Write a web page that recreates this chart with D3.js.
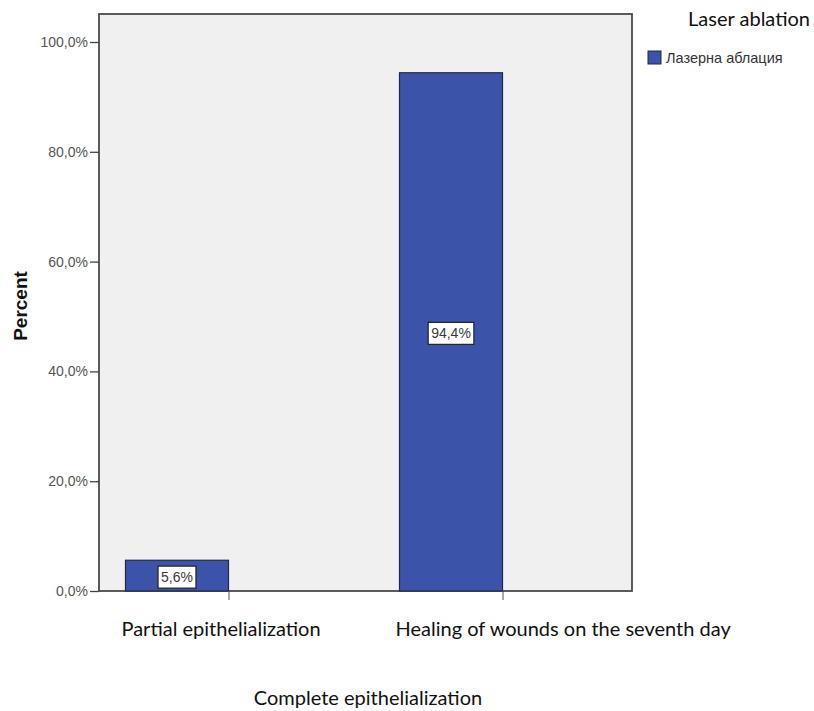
<!DOCTYPE html>
<html>
<head>
<meta charset="utf-8">
<script src="https://cdn.jsdelivr.net/npm/d3@7"></script>
<style>
  body { margin: 0; background: #fff; }
  svg { display: block; }
</style>
</head>
<body>
<svg id="chart" width="814" height="711"></svg>
<script>
// Outcome categories and the share of patients in each (percent)
const categories = ["Partial epithelialization", "Healing of wounds on the seventh day"];
const seriesNames = ["Лазерна аблация", ""];
const laserValues = [5.6, 94.4];
const emptyValues = [0, 0];
const yTicks = [0, 20, 40, 60, 80, 100];
const legendTitle = "Laser ablation";
const xTitle = "Complete epithelialization";
const yTitle = "Percent";

const svg = d3.select("#chart");
const frame = { left: 99, top: 14, right: 632, bottom: 591 };
const barFill = "#3b53a8";
const fmt = v => d3.format(".1f")(v).replace(".", ",") + "%";
const sansUI = "Liberation Sans, Arial, sans-serif";
const sansText = "Lato, Carlito, Calibri, sans-serif";

const y = d3.scaleLinear().domain([0, 100]).range([591, 42]);
const x = d3.scalePoint().domain(categories).range([frame.left, frame.right]).padding(0.4726);
const xSub = d3.scaleBand().domain(seriesNames).range([-103, 103]);

// plot area
svg.append("rect")
  .attr("x", frame.left).attr("y", frame.top)
  .attr("width", frame.right - frame.left).attr("height", frame.bottom - frame.top)
  .attr("fill", "#f0f0f0").attr("stroke", "#4a4a4a").attr("stroke-width", 1.8);

// bars
const rows = categories.map((c, i) => ({ c, vals: [laserValues[i], emptyValues[i]] }));
const groups = svg.append("g").selectAll("g").data(rows).join("g")
  .attr("transform", d => `translate(${x(d.c)},0)`);

groups.selectAll("rect").data(d => d.vals.map((v, j) => ({ v, s: seriesNames[j] })))
  .join("rect")
  .filter(d => d.v > 0)
  .attr("x", d => xSub(d.s))
  .attr("width", xSub.bandwidth())
  .attr("y", d => y(d.v))
  .attr("height", d => y(0) - y(d.v))
  .attr("fill", barFill)
  .attr("stroke", "#1f2a4a").attr("stroke-width", 1.2);

// value labels
groups.each(function(d) {
  const g = d3.select(this);
  const v = d.vals[0];
  const cx = xSub(seriesNames[0]) + xSub.bandwidth() / 2;
  const cy = (y(v) + y(0)) / 2 + 1.5;
  const t = g.append("text")
    .attr("x", cx).attr("y", cy + 5)
    .attr("text-anchor", "middle")
    .attr("font-family", sansUI)
    .attr("font-size", 14).attr("fill", "#3a3a3a")
    .text(fmt(v));
  const bb = t.node().getBBox();
  g.insert("rect", "text")
    .attr("x", bb.x - 3).attr("y", bb.y - 3)
    .attr("width", bb.width + 6).attr("height", bb.height + 6)
    .attr("fill", "#fff").attr("stroke", "#222").attr("stroke-width", 1.2);
});

// y axis
const yAxis = svg.append("g")
  .attr("transform", `translate(${frame.left},0)`)
  .call(d3.axisLeft(y).tickValues(yTicks).tickSize(9).tickPadding(2).tickFormat(fmt));
yAxis.select(".domain").remove();
yAxis.selectAll("line").attr("stroke", "#444").attr("stroke-width", 1.3);
yAxis.selectAll("text")
  .attr("font-family", sansUI)
  .attr("font-size", 14).attr("fill", "#555");

// x axis ticks
const xAxis = svg.append("g")
  .attr("transform", `translate(0,${frame.bottom})`)
  .call(d3.axisBottom(x).tickSize(9).tickFormat(""));
xAxis.select(".domain").remove();
xAxis.selectAll("line").attr("stroke", "#555").attr("stroke-width", 1);

// category labels
svg.append("g").selectAll("text").data(categories).join("text")
  .attr("x", d => x(d) - 107)
  .attr("y", 636)
  .attr("font-family", sansText)
  .attr("font-size", 20).attr("fill", "#111")
  .text(d => d);

// x title
svg.append("text")
  .attr("x", 368).attr("y", 705)
  .attr("text-anchor", "middle")
  .attr("font-family", sansText)
  .attr("font-size", 20).attr("fill", "#111")
  .text(xTitle);

// y title
svg.append("text")
  .attr("transform", "translate(27,306) rotate(-90)")
  .attr("text-anchor", "middle")
  .attr("font-family", sansUI)
  .attr("font-weight", "bold")
  .attr("font-size", 19).attr("fill", "#111")
  .text(yTitle);

// legend
svg.append("text")
  .attr("x", 810).attr("y", 26)
  .attr("text-anchor", "end")
  .attr("font-family", sansText)
  .attr("font-size", 20).attr("fill", "#111")
  .text(legendTitle);
const leg = svg.append("g").attr("transform", "translate(648,51)");
leg.append("rect").attr("width", 13).attr("height", 13)
  .attr("fill", barFill).attr("stroke", "#1f2a4a").attr("stroke-width", 1);
leg.append("text").attr("x", 18).attr("y", 12)
  .attr("font-family", sansUI)
  .attr("font-size", 14.5).attr("fill", "#333")
  .text(seriesNames[0]);
</script>
</body>
</html>
